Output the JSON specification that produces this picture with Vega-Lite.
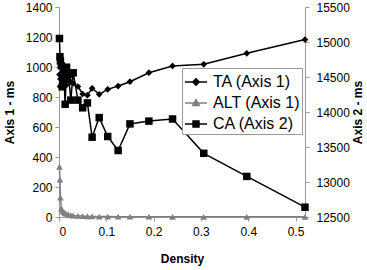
{
  "$schema": "https://vega.github.io/schema/vega-lite/v6.json",
  "autosize": "none",
  "width": 246,
  "height": 210,
  "padding": {"left": 59, "top": 7, "right": 62, "bottom": 53},
  "background": "white",
  "config": {
    "font": "Liberation Sans",
    "view": {"stroke": null},
    "axis": {
      "grid": false,
      "domainColor": "#999999",
      "tickColor": "#999999",
      "tickSize": 4,
      "labelFontSize": 12,
      "labelColor": "black",
      "titleFontSize": 12,
      "titleFontWeight": "bold",
      "titleColor": "black"
    }
  },
  "data": {
    "values": [
      {"d": 0.001, "series": "TA (Axis 1)", "v": 950},
      {"d": 0.002, "series": "TA (Axis 1)", "v": 870},
      {"d": 0.003, "series": "TA (Axis 1)", "v": 920},
      {"d": 0.005, "series": "TA (Axis 1)", "v": 940},
      {"d": 0.007, "series": "TA (Axis 1)", "v": 900},
      {"d": 0.01, "series": "TA (Axis 1)", "v": 960},
      {"d": 0.013, "series": "TA (Axis 1)", "v": 930},
      {"d": 0.016, "series": "TA (Axis 1)", "v": 880},
      {"d": 0.02, "series": "TA (Axis 1)", "v": 920},
      {"d": 0.025, "series": "TA (Axis 1)", "v": 900},
      {"d": 0.03, "series": "TA (Axis 1)", "v": 890},
      {"d": 0.04, "series": "TA (Axis 1)", "v": 870},
      {"d": 0.05, "series": "TA (Axis 1)", "v": 820},
      {"d": 0.06, "series": "TA (Axis 1)", "v": 812},
      {"d": 0.07, "series": "TA (Axis 1)", "v": 858},
      {"d": 0.085, "series": "TA (Axis 1)", "v": 818},
      {"d": 0.103, "series": "TA (Axis 1)", "v": 851},
      {"d": 0.125, "series": "TA (Axis 1)", "v": 873},
      {"d": 0.15, "series": "TA (Axis 1)", "v": 902},
      {"d": 0.19, "series": "TA (Axis 1)", "v": 962},
      {"d": 0.24, "series": "TA (Axis 1)", "v": 1007},
      {"d": 0.306, "series": "TA (Axis 1)", "v": 1018},
      {"d": 0.397, "series": "TA (Axis 1)", "v": 1091},
      {"d": 0.52, "series": "TA (Axis 1)", "v": 1183},
      {"d": 0.001, "series": "ALT (Axis 1)", "v": 335},
      {"d": 0.002, "series": "ALT (Axis 1)", "v": 250},
      {"d": 0.003, "series": "ALT (Axis 1)", "v": 130},
      {"d": 0.005, "series": "ALT (Axis 1)", "v": 58},
      {"d": 0.007, "series": "ALT (Axis 1)", "v": 42},
      {"d": 0.01, "series": "ALT (Axis 1)", "v": 32},
      {"d": 0.013, "series": "ALT (Axis 1)", "v": 26},
      {"d": 0.016, "series": "ALT (Axis 1)", "v": 21},
      {"d": 0.02, "series": "ALT (Axis 1)", "v": 17},
      {"d": 0.025, "series": "ALT (Axis 1)", "v": 13},
      {"d": 0.03, "series": "ALT (Axis 1)", "v": 10},
      {"d": 0.04, "series": "ALT (Axis 1)", "v": 8},
      {"d": 0.05, "series": "ALT (Axis 1)", "v": 6},
      {"d": 0.06, "series": "ALT (Axis 1)", "v": 5},
      {"d": 0.07, "series": "ALT (Axis 1)", "v": 4},
      {"d": 0.085, "series": "ALT (Axis 1)", "v": 3},
      {"d": 0.103, "series": "ALT (Axis 1)", "v": 3},
      {"d": 0.125, "series": "ALT (Axis 1)", "v": 2},
      {"d": 0.15, "series": "ALT (Axis 1)", "v": 2},
      {"d": 0.19, "series": "ALT (Axis 1)", "v": 2},
      {"d": 0.24, "series": "ALT (Axis 1)", "v": 1},
      {"d": 0.306, "series": "ALT (Axis 1)", "v": 1},
      {"d": 0.397, "series": "ALT (Axis 1)", "v": 1},
      {"d": 0.52, "series": "ALT (Axis 1)", "v": 1},
      {"d": 0.001, "series": "CA (Axis 2)", "v": 15050},
      {"d": 0.002, "series": "CA (Axis 2)", "v": 14790},
      {"d": 0.003, "series": "CA (Axis 2)", "v": 14730},
      {"d": 0.005, "series": "CA (Axis 2)", "v": 14660},
      {"d": 0.007, "series": "CA (Axis 2)", "v": 14360},
      {"d": 0.01, "series": "CA (Axis 2)", "v": 14600},
      {"d": 0.013, "series": "CA (Axis 2)", "v": 14110},
      {"d": 0.016, "series": "CA (Axis 2)", "v": 14640},
      {"d": 0.02, "series": "CA (Axis 2)", "v": 14540},
      {"d": 0.025, "series": "CA (Axis 2)", "v": 14170},
      {"d": 0.03, "series": "CA (Axis 2)", "v": 14560},
      {"d": 0.04, "series": "CA (Axis 2)", "v": 14170},
      {"d": 0.05, "series": "CA (Axis 2)", "v": 14060},
      {"d": 0.06, "series": "CA (Axis 2)", "v": 14130},
      {"d": 0.07, "series": "CA (Axis 2)", "v": 13640},
      {"d": 0.085, "series": "CA (Axis 2)", "v": 13920},
      {"d": 0.103, "series": "CA (Axis 2)", "v": 13650},
      {"d": 0.125, "series": "CA (Axis 2)", "v": 13450},
      {"d": 0.15, "series": "CA (Axis 2)", "v": 13830},
      {"d": 0.19, "series": "CA (Axis 2)", "v": 13870},
      {"d": 0.24, "series": "CA (Axis 2)", "v": 13900},
      {"d": 0.306, "series": "CA (Axis 2)", "v": 13410},
      {"d": 0.397, "series": "CA (Axis 2)", "v": 13080},
      {"d": 0.52, "series": "CA (Axis 2)", "v": 12640}
    ]
  },
  "encoding": {
    "x": {
      "field": "d",
      "type": "quantitative",
      "scale": {"domain": [0, 0.52], "nice": false, "zero": false},
      "axis": {
        "title": "Density",
        "values": [0, 0.1, 0.2, 0.3, 0.4, 0.5],
        "format": ".1~f",
        "labelPadding": 5,
        "titlePadding": 16
      }
    },
    "color": {
      "field": "series",
      "type": "nominal",
      "scale": {
        "domain": ["TA (Axis 1)", "ALT (Axis 1)", "CA (Axis 2)"],
        "range": ["#000000", "#808080", "#000000"]
      },
      "legend": {
        "title": null,
        "orient": "none",
        "legendX": 123,
        "legendY": 61,
        "fillColor": "white",
        "strokeColor": "#999999",
        "padding": 2,
        "labelFontSize": 16,
        "labelColor": "black",
        "labelOffset": 5,
        "rowPadding": 1,
        "symbolSize": 484,
        "encode": {
          "symbols": {
            "update": {
              "shape": {"signal": "datum.value === 'TA (Axis 1)' ? 'M-1,0H1M0,-0.3L0.3,0L0,0.3L-0.3,0Z' : datum.value === 'ALT (Axis 1)' ? 'M-1,0H1M0,-0.3L0.3,0.22L-0.3,0.22Z' : 'M-1,0H1M-0.27,-0.27H0.27V0.27H-0.27Z'"},
              "strokeWidth": {"value": 1.5},
              "opacity": {"value": 1}
            }
          }
        }
      }
    }
  },
  "layer": [
    {
      "transform": [{"filter": "datum.series !== 'CA (Axis 2)'"}],
      "encoding": {
        "y": {
          "field": "v",
          "type": "quantitative",
          "scale": {"domain": [0, 1400], "nice": false},
          "axis": {
            "title": "Axis 1 - ms",
            "values": [0, 200, 400, 600, 800, 1000, 1200, 1400],
            "format": "d",
            "labelPadding": 3,
            "titlePadding": 9
          }
        }
      },
      "layer": [
        {"mark": {"type": "line", "strokeWidth": 1.5}},
        {"transform": [{"filter": "datum.series === 'TA (Axis 1)'"}], "mark": {"type": "point", "shape": "diamond", "filled": true, "opacity": 1, "size": 45}},
        {"transform": [{"filter": "datum.series === 'ALT (Axis 1)'"}], "mark": {"type": "point", "shape": "triangle-up", "filled": true, "opacity": 1, "size": 45}}
      ]
    },
    {
      "transform": [{"filter": "datum.series === 'CA (Axis 2)'"}],
      "encoding": {
        "y": {
          "field": "v",
          "type": "quantitative",
          "scale": {"domain": [12500, 15500], "nice": false, "zero": false},
          "axis": {
            "title": "Axis 2 - ms",
            "orient": "right",
            "values": [12500, 13000, 13500, 14000, 14500, 15000, 15500],
            "format": "d",
            "labelPadding": 7,
            "titleAngle": 270,
            "titlePadding": 15
          }
        }
      },
      "layer": [
        {"mark": {"type": "line", "strokeWidth": 1.5}},
        {"mark": {"type": "point", "shape": "square", "filled": true, "opacity": 1, "size": 56}}
      ]
    }
  ],
  "resolve": {"scale": {"y": "independent"}}
}
